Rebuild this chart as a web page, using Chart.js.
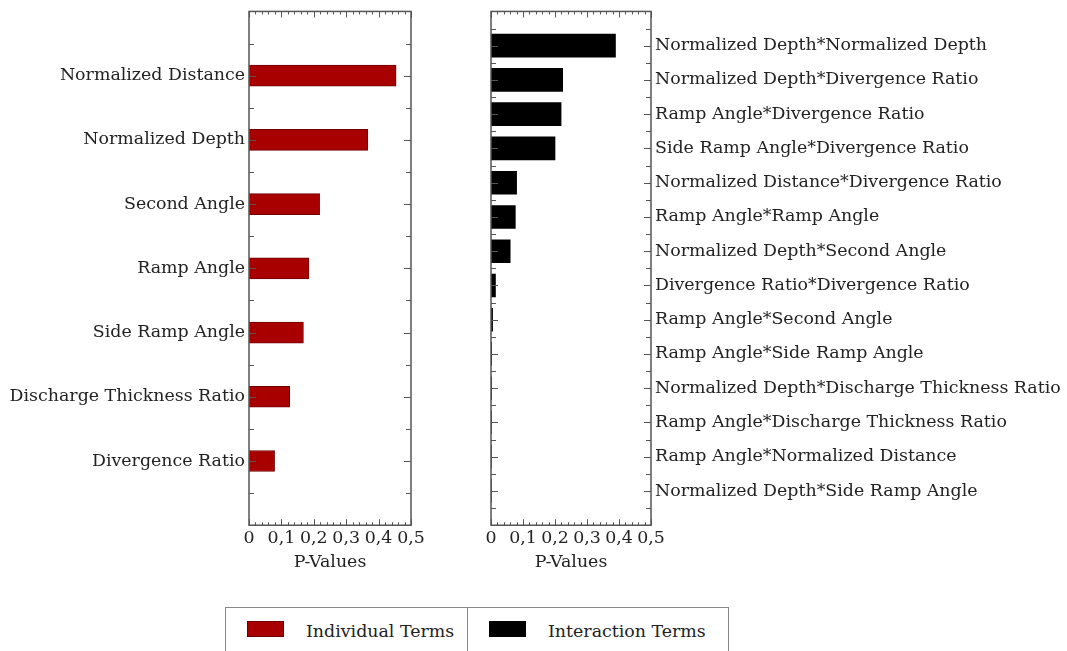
<!DOCTYPE html>
<html>
<head>
<meta charset="utf-8">
<script src="https://cdn.jsdelivr.net/npm/chart.js@4.4.1/dist/chart.umd.min.js"></script>
<style>
  html, body { margin: 0; padding: 0; background: #fff; }
  body { width: 1067px; height: 651px; position: relative; overflow: hidden; font-family: "DejaVu Serif", serif; color: #222; }
  #wrapL { position: absolute; left: 0; top: -3px; width: 440px; height: 576px; }
  #wrapR { position: absolute; left: 470px; top: -3px; width: 597px; height: 576px; }
  .legend { position: absolute; left: 225px; top: 607px; width: 504px; height: 60px; border: 1px solid #888; box-sizing: border-box; }
  .cell { position: absolute; top: 0; height: 100%; }
  .cell.a { left: 0; width: 241px; }
  .cell.b { left: 241px; right: 0; border-left: 1px solid #888; }
  .sw { position: absolute; left: 21px; top: 13px; width: 37px; height: 16px; box-sizing: border-box; }
  .lt { position: absolute; left: 80px; top: 12px; font-size: 17.4px; line-height: 22px; white-space: nowrap; }
</style>
</head>
<body>
<div id="wrapL"><canvas id="left"></canvas></div>
<div id="wrapR"><canvas id="right"></canvas></div>
<div class="legend">
  <div class="cell a"><div class="sw" style="background:#a80000;border:1px solid #700000"></div><div class="lt">Individual Terms</div></div>
  <div class="cell b"><div class="sw" style="background:#000"></div><div class="lt">Interaction Terms</div></div>
</div>
<script>
// Individual terms and their p-values
const individualTerms = [
  'Normalized Distance',
  'Normalized Depth',
  'Second Angle',
  'Ramp Angle',
  'Side Ramp Angle',
  'Discharge Thickness Ratio',
  'Divergence Ratio'
];
const individualP = [0.454, 0.367, 0.218, 0.185, 0.168, 0.126, 0.079];

// Interaction terms and their p-values
const interactionTerms = [
  'Normalized Depth*Normalized Depth',
  'Normalized Depth*Divergence Ratio',
  'Ramp Angle*Divergence Ratio',
  'Side Ramp Angle*Divergence Ratio',
  'Normalized Distance*Divergence Ratio',
  'Ramp Angle*Ramp Angle',
  'Normalized Depth*Second Angle',
  'Divergence Ratio*Divergence Ratio',
  'Ramp Angle*Second Angle',
  'Ramp Angle*Side Ramp Angle',
  'Normalized Depth*Discharge Thickness Ratio',
  'Ramp Angle*Discharge Thickness Ratio',
  'Ramp Angle*Normalized Distance',
  'Normalized Depth*Side Ramp Angle'
];
const interactionP = [0.389, 0.224, 0.219, 0.200, 0.080, 0.076, 0.060, 0.014, 0.005, 0.002, 0.0015, 0.0012, 0.001, 0.001];

// P-value axis
const pMin = 0, pMax = 0.5, pStep = 0.1, pMinorStep = 0.02;

const FONT = { family: '"DejaVu Serif", serif', size: 17.4 };
const INK = '#222';
const FRAME = '#555';

function fmtP(v) {
  if (Math.abs(v) < 1e-9) return '0';
  return v.toFixed(1).replace('.', ',');
}

// Frame around the plot area with inward tick marks on all four sides
const frameTicks = {
  id: 'frameTicks',
  afterDatasetsDraw(chart) {
    const { ctx, chartArea: a, scales: { x, y } } = chart;
    ctx.save();
    ctx.strokeStyle = FRAME;
    ctx.lineWidth = 1;
    const seg = (x1, y1, x2, y2) => { ctx.beginPath(); ctx.moveTo(x1, y1); ctx.lineTo(x2, y2); ctx.stroke(); };
    const nMinor = Math.round((pMax - pMin) / pMinorStep);
    const perMajor = Math.round(pStep / pMinorStep);
    for (let i = 0; i <= nMinor; i++) {
      const px = Math.round(x.getPixelForValue(pMin + i * pMinorStep)) + 0.5;
      const len = i % perMajor === 0 ? 6 : 3;
      seg(px, a.bottom, px, a.bottom - len);
      seg(px, a.top, px, a.top + len);
    }
    for (let v = y.min; v <= y.max + 1e-9; v += 0.5) {
      const py = Math.round(y.getPixelForValue(v)) + 0.5;
      const len = Number.isInteger(v) ? 7 : 5;
      seg(a.left, py, a.left + len, py);
      seg(a.right, py, a.right - len, py);
    }
    ctx.lineWidth = 1.5;
    ctx.strokeRect(a.left, a.top, a.right - a.left, a.bottom - a.top);
    ctx.restore();
  }
};

function makeChart(id, labels, values, color, border, side, axisWidth, thickness, pad) {
  const n = labels.length;
  return new Chart(document.getElementById(id), {
    type: 'bar',
    data: {
      datasets: [{
        data: values.map((v, i) => ({ x: v, y: i })),
        backgroundColor: color,
        borderColor: border,
        borderWidth: border === color ? 0 : 1,
        barThickness: thickness
      }]
    },
    options: {
      indexAxis: 'y',
      responsive: true,
      maintainAspectRatio: false,
      animation: false,
      events: [],
      layout: { padding: pad },
      plugins: { legend: { display: false }, tooltip: { enabled: false } },
      scales: {
        x: {
          type: 'linear',
          min: pMin, max: pMax,
          grid: { display: false, drawTicks: false },
          border: { display: false },
          ticks: { stepSize: pStep, callback: fmtP, font: FONT, color: INK, padding: 3, maxRotation: 0 },
          title: { display: true, text: 'P-Values', font: FONT, color: INK, padding: { top: 0, bottom: 0 } }
        },
        y: {
          type: 'linear',
          position: side,
          reverse: true,
          offset: false,
          min: -1, max: n,
          grid: { display: false, drawTicks: false, offset: false },
          border: { display: false },
          ticks: {
            stepSize: 0.5,
            autoSkip: false,
            font: FONT, color: INK, padding: 4,
            callback: v => (Number.isInteger(v) && v >= 0 && v < n) ? labels[v] : ''
          },
          afterFit: s => { s.width = axisWidth; }
        }
      }
    },
    plugins: [frameTicks]
  });
}

makeChart('left', individualTerms, individualP, '#a80000', '#700000', 'left', 249, 21,
  { top: 10, right: 29, left: 0, bottom: 0 });
makeChart('right', interactionTerms, interactionP, '#000000', '#000000', 'right', 416, 23,
  { top: 10, right: 0, left: 21, bottom: 0 });
</script>
</body>
</html>
